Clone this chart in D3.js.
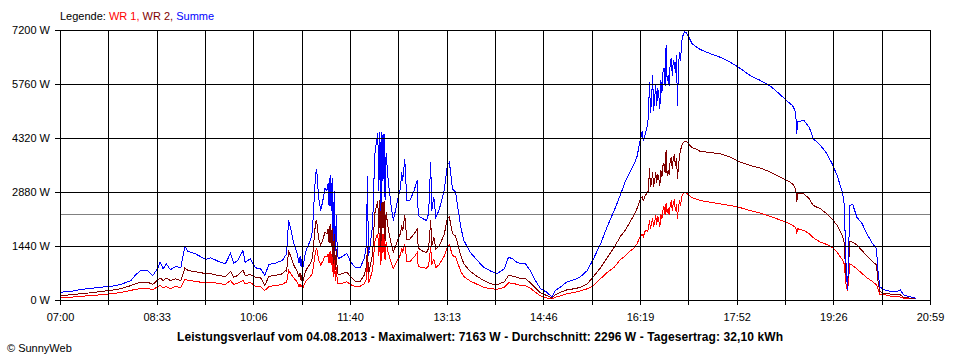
<!DOCTYPE html>
<html><head><meta charset="utf-8">
<script src="https://cdn.jsdelivr.net/npm/d3@7"></script>
<style>
html,body{margin:0;padding:0;background:#fff;}
svg{display:block;font-family:"Liberation Sans",Arial,sans-serif;}
</style>
</head><body>
<svg id="chart" width="960" height="360"></svg>
<script>
// minutes after 07:00
const minutes = [0,10,19,29,39,48,58,68,72,77,84,89,94,96,99,102,106,111,116,120,123,130,135,140,145,149,154,159,164,167,171,176,178,183,188,193,197,201,207,214,217,
218,220,222,225,228,230,231,232,233,234,236,238,241,243,244,246,247,249,251,253,255,257,258,259,260,261,262,263,264,265,266,267,268,272,276,280,284,289,293,295,296,297,298,301,303,304,305,306,307,308,309,310,311,312,313,314,316,319,321,325,328,329,330,332,334,337,341,344,345,349,353,355,357,358,360,362,365,370,373,375,376,378,381,386,389,395,402,408,415,421,428,432,436,440,444,
448,453,458,463,469,474,477,482,488,495,501,508,514,521,527,534,540,545,550,553,556,559,561,562,564,566,567,
568,569,570,571,572,573,574,575,576,577,578,579,580,581,582,583,584,585,586,587,588,589,590,591,592,593,594,595,596,597,598,599,600,601,602,603,604,606,609,614,617,
627,636,646,656,665,675,685,694,701,706,709,710,711,717,722,726,733,739,744,749,754,756,757,758,759,760,761,764,768,773,778,783,787,788,790,794,800,807,810,813,820,825];

const summe = [221,240,293,320,355,373,427,533,667,800,800,667,872,1021,845,979,819,907,872,1448,1307,1245,1173,1093,1139,1085,1021,979,1261,995,1067,1333,1021,1112,872,845,667,960,995,1067,1200,
1245,2133,1920,1520,1280,1013,1173,907,1120,889,1253,1421,1600,1867,2400,3379,3512,2720,2400,2667,2987,2933,3120,2533,3333,2400,3253,1600,2933,1333,2267,1200,1120,1173,1253,1021,888,880,1120,1467,3333,1200,1333,2000,3867,4088,4267,4453,2933,4488,2400,4480,3200,4453,2667,3920,3200,2488,2133,2667,3021,3421,3200,3779,2667,2667,2933,3200,2267,2187,2133,2320,3688,2400,2755,2221,2400,2933,3600,3688,3467,2979,2888,1955,1600,1288,1067,888,781,712,845,1155,1112,1021,979,
995,800,533,312,221,88,267,355,488,552,621,800,1112,1520,1955,2400,2820,3200,3467,3627,3840,4267,4507,4267,4453,4667,4933,
5813,5013,5333,6000,5067,5387,5760,5200,5653,5467,5120,5867,5547,6080,6187,5733,6800,5867,6000,5733,6347,6453,6000,6400,6347,6080,6533,5200,6267,6613,6400,6880,7040,7120,7163,7147,7120,7022,6853,6747,6693,
6578,6488,6355,6179,6000,5867,5707,5493,5307,5200,5021,4445,4773,4800,4621,4312,4133,3920,3653,3333,2888,2533,1333,700,290,1067,2533,2560,2221,2053,1760,1520,1373,880,373,285,248,240,280,147,93,59];

const wr2 = [133,152,179,205,240,267,312,400,445,488,488,427,552,605,533,595,533,579,533,872,800,765,747,712,712,685,659,640,781,621,667,819,667,693,621,605,400,648,667,712,800,
780,1333,1173,940,790,640,720,533,680,520,760,870,980,1130,1450,2100,2133,1650,1480,1620,1820,1780,1900,1530,2030,1450,1980,980,1780,820,1380,730,690,720,760,621,520,510,680,900,1420,720,820,1250,2300,2450,2550,2640,1780,2680,1450,2670,1930,2650,1600,2350,1920,1500,1290,1600,1800,2000,1850,2267,1620,1640,1780,1900,1400,1320,1280,1390,2133,1440,1688,1379,1450,1750,2179,2221,2080,1780,1720,1200,980,780,640,533,445,419,500,667,650,621,579,
587,480,330,200,133,60,150,221,280,312,347,445,640,880,1130,1421,1710,1890,2133,2270,2453,2693,2773,2667,2800,2880,2930,
3520,3040,3147,3413,3040,3200,3413,3147,3360,3253,3067,3467,3307,3600,3653,3413,4000,3333,3467,3360,3733,3813,3520,3813,3867,3600,3787,3253,3600,3867,4000,4133,4187,4213,4240,4240,4240,4160,4080,4027,3973,
3947,3912,3821,3688,3600,3533,3421,3288,3200,3112,2979,2621,2861,2845,2712,2533,2445,2312,2179,2000,1733,1520,800,560,400,853,1581,1555,1480,1333,1173,1040,947,587,240,195,173,160,147,88,59,45];

const wr1 = [72,88,107,133,152,179,213,267,301,312,320,285,373,400,339,373,320,373,339,568,533,515,488,480,488,472,445,427,533,427,461,533,445,488,373,373,267,373,400,427,488,
480,800,720,600,500,373,430,355,420,355,490,560,640,730,950,1300,1400,1080,950,1050,1180,1160,1230,1000,1320,950,1290,640,1160,530,900,480,440,460,500,420,380,380,450,580,1150,470,540,800,1550,1650,1720,1780,1180,1800,960,1790,1280,1780,1070,1560,1280,990,850,1070,1230,1400,1300,1512,1050,1040,1160,1280,900,880,860,930,1421,960,1100,880,950,1180,1421,1480,1390,1200,1160,780,640,520,430,355,312,300,350,470,461,430,400,
400,330,220,120,67,40,90,120,179,213,253,312,400,587,740,888,1093,1200,1333,1400,1512,1707,1760,1700,1867,1850,1900,
2133,1920,2080,2187,1973,2080,2267,2027,2240,2133,1973,2293,2187,2400,2507,2293,2587,2347,2453,2293,2533,2667,2400,2613,2667,2400,2560,2187,2507,2667,2533,2747,2827,2853,2880,2880,2853,2800,2747,2693,2667,
2621,2579,2533,2472,2400,2328,2240,2147,2080,2000,1955,1787,1912,1867,1779,1672,1555,1493,1421,1288,1085,960,530,350,267,533,979,933,840,720,600,507,413,347,170,160,120,107,93,59,45,40];

const yTicks = [0,1440,2880,4320,5760,7200];
const xTickLabels = ["07:00","08:33","10:06","11:40","13:13","14:46","16:19","17:52","19:26","20:59"];
const spanMinutes = 839;      // 07:00 .. 20:59
const xIntervals = 18;
const average = 2296;
const legendItems = [
  {text:"Legende: ", color:"#000000"},
  {text:"WR 1, ", color:"#ff0000"},
  {text:"WR 2, ", color:"#800000"},
  {text:"Summe", color:"#0000ff"}
];
const titleText = "Leistungsverlauf vom 04.08.2013 - Maximalwert: 7163 W - Durchschnitt: 2296 W - Tagesertrag: 32,10 kWh";
const copyrightText = "© SunnyWeb";

const svg = d3.select("#chart");
svg.append("rect").attr("width",960).attr("height",360).attr("fill","#fff");

const x = d3.scaleLinear().domain([0, spanMinutes]).range([60, 930]);
const y = d3.scaleLinear().domain([0, 7200]).range([300, 30]);
const px = v => Math.round(x(v)) + 0.5;
const py = v => Math.round(y(v)) + 0.5;

const xTickVals = d3.range(xIntervals + 1).map(i => i * spanMinutes / xIntervals);

// legend
const leg = svg.append("text").attr("x", 60).attr("y", 20).attr("font-size", 11);
legendItems.forEach(it => leg.append("tspan").attr("fill", it.color).attr("xml:space","preserve").text(it.text));

// average line
svg.append("line").attr("x1", 60).attr("x2", 930).attr("y1", py(average)).attr("y2", py(average))
  .attr("stroke", "#808080").attr("shape-rendering","crispEdges");

// series
const seriesList = [
  {values: wr1, color:"#ff0000"},
  {values: wr2, color:"#800000"},
  {values: summe, color:"#0000ff"}
];
const line = d3.line().x(d => x(d[0]) + 0.5).y(d => y(d[1]) + 0.5);
seriesList.forEach(s => {
  const pts = minutes.map((t,i) => [t, s.values[i]]);
  svg.append("path").attr("d", line(pts)).attr("fill","none").attr("stroke", s.color)
    .attr("stroke-width", 1).attr("shape-rendering","crispEdges");
});

// grid
const grid = svg.append("g").attr("stroke","#000").attr("shape-rendering","crispEdges");
yTicks.forEach(v => {
  grid.append("line").attr("x1", 55).attr("x2", 930).attr("y1", py(v)).attr("y2", py(v));
});
xTickVals.forEach(v => {
  grid.append("line").attr("x1", px(v)).attr("x2", px(v)).attr("y1", 30).attr("y2", 305);
});

// y labels
svg.append("g").selectAll("text").data(yTicks).join("text")
  .attr("x", 50).attr("y", d => Math.round(y(d)) + 4).attr("text-anchor","end").attr("font-size", 11)
  .text(d => d + " W");

// x labels
svg.append("g").selectAll("text").data(xTickLabels).join("text")
  .attr("x", (d,i) => x(xTickVals[i*2]) + 0.5).attr("y", 321).attr("text-anchor","middle").attr("font-size", 11)
  .text(d => d);

// title
svg.append("text").attr("x", 480).attr("y", 341).attr("text-anchor","middle")
  .attr("font-size", 12).attr("font-weight","bold")
  .attr("textLength", 606).attr("lengthAdjust", "spacing").text(titleText);

svg.append("text").attr("x", 7).attr("y", 352).attr("font-size", 11).text(copyrightText);
</script>
</body></html>
